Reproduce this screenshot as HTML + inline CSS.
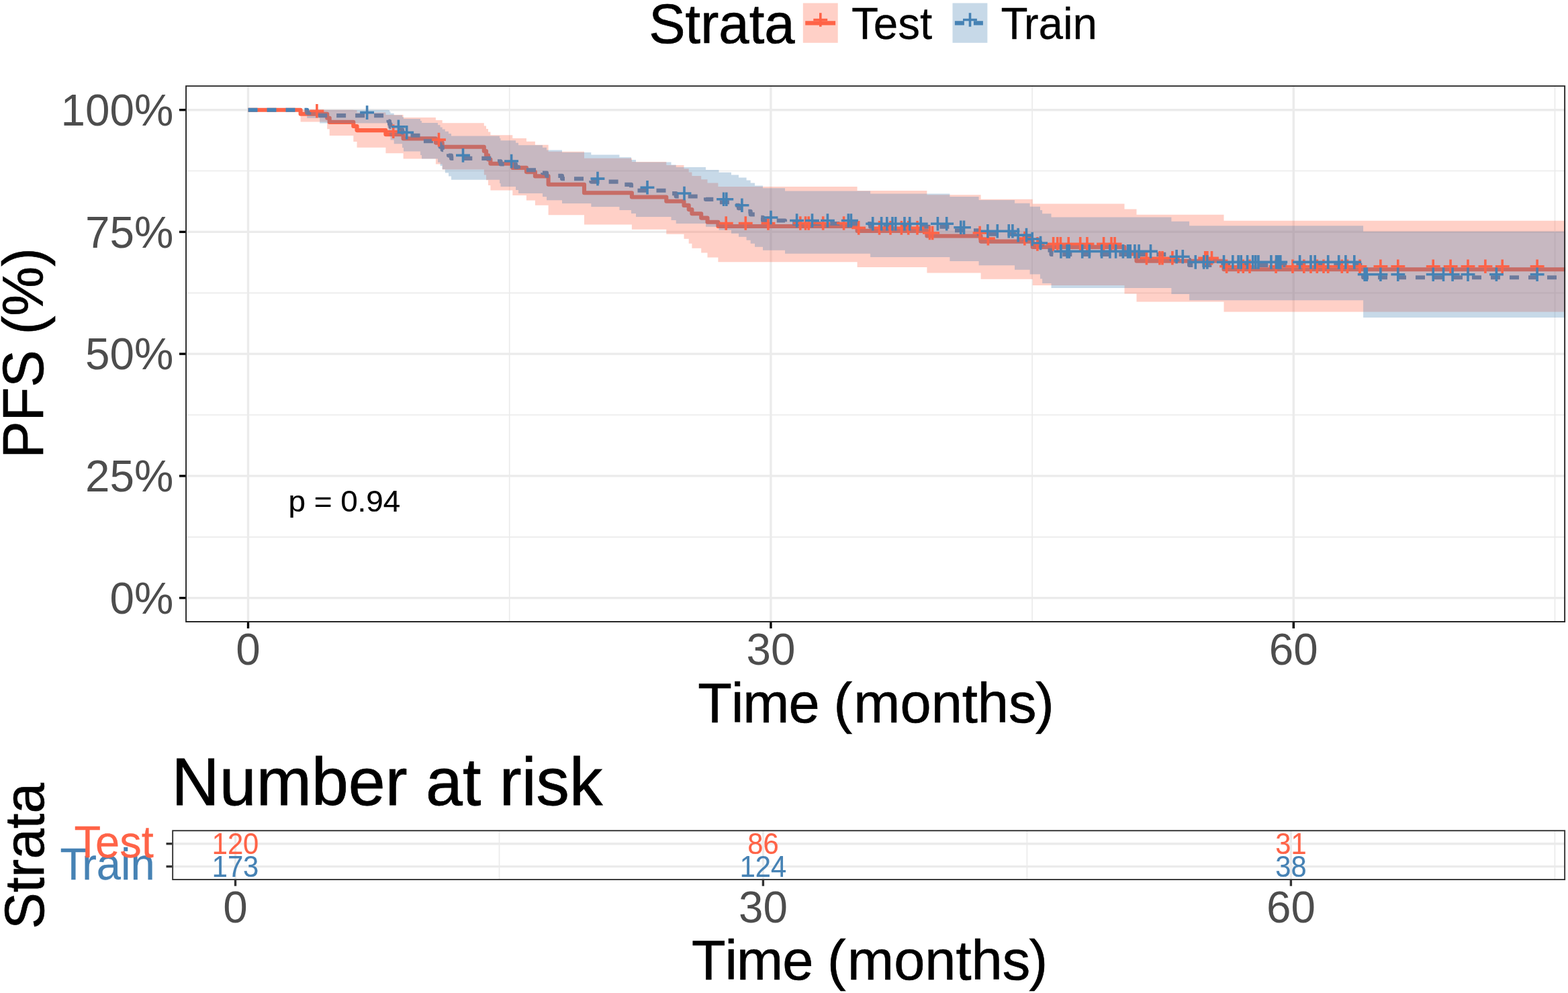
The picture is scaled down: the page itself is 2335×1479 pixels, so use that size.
<!DOCTYPE html>
<html lang="en">
<head>
<meta charset="utf-8">
<title>PFS Kaplan-Meier: Test vs Train</title>
<style>
html,body{margin:0;padding:0;background:#fff;}
body{width:2335px;height:1479px;overflow:hidden;font-family:"Liberation Sans",Arial,sans-serif;}
svg{display:block;}
</style>
</head>
<body>
<svg width="2335" height="1479" viewBox="0 0 2335 1479" font-family="'Liberation Sans', Arial, sans-serif">
<rect width="2335" height="1479" fill="#fff"/>
<defs><clipPath id="cp"><rect x="276.1" y="127.2" width="2055" height="799.7"/></clipPath>
<clipPath id="cr"><rect x="256.2" y="1236.3" width="2074.9" height="74.7"/></clipPath></defs>
<g clip-path="url(#cp)">
<g stroke="#EBEBEB" stroke-width="1.7"><path d="M276.1,799.8H2331.1"/><path d="M276.1,618H2331.1"/><path d="M276.1,436.3H2331.1"/><path d="M276.1,254.5H2331.1"/><path d="M758.7,127.2V926.9"/><path d="M1537.1,127.2V926.9"/><path d="M2315.5,127.2V926.9"/></g>
<g stroke="#EBEBEB" stroke-width="3.4"><path d="M276.1,890.6H2331.1"/><path d="M276.1,708.9H2331.1"/><path d="M276.1,527.1H2331.1"/><path d="M276.1,345.4H2331.1"/><path d="M276.1,163.7H2331.1"/><path d="M369.5,127.2V926.9"/><path d="M1147.9,127.2V926.9"/><path d="M1926.3,127.2V926.9"/></g>
<g fill="none" stroke-width="6.1" stroke-linejoin="round">
<path stroke="#FF6347" d="M369.5,163.7H447.6V169.7H487.2V175.8H490.7V181.9H526.3V188H531.5V194.1H574.4V200.3H600.6V206.4H648.9V212.6H658.7V218.8H720.8V225H724V231.2H727V237.5H730.4V243.7H763.3V249.9H783.9V256.1H796.9V262.4H816.6V274.8H870V287.2H940.9V293.5H992.3V299.7H1018.5V305.9H1025.7V312.1H1030.4V318.3H1044.2V324.6H1053.5V330.8H1069.4V337H1276.6V343.9H1380.4V351.5H1460.6V359.6H1537.7V367.9H1674.5V378.3H1692.5V388.8H1822.5V401.3H2345"/>
<path stroke="#4682B4" stroke-dasharray="14 14" d="M369.5,163.7H457.2V167.9H476.1V172.1H577V176.3H578.5V180.5H580V184.7H581.5V189H586.7V193.2H599V197.4H601V201.7H626V206H628V210.3H652V214.5H655.6V218.8H658.7V223.1H662.8V227.4H668V231.6H672V235.9H744V240.2H745.5V244.5H768V248.9H772V253.2H808V257.6H814V261.9H837V266.2H880.3V270.6H922.4V274.9H940V279.3H947V283.7H999.5V288.1H1006.7V292.5H1051V296.9H1070.5V301.3H1089V305.8H1100V310.3H1111.6V314.9H1117.7V319.4H1124V323.9H1136V328.5H1169V333H1296.1V337.8H1414.4V343.2H1457.6V348.7H1511V354.6H1533.6V360.5H1549V366.5H1552.1V372.7H1565.5V378.9H1744.4V386.7H1771.1V394.9H2030.1V413.2H2345"/>
</g>
<path fill="#FF6347" fill-opacity="0.3" d="M369.5,163.7H447.6V163.7H487.2V163.7H490.7V163.7H526.3V164.1H531.5V167.5H574.4V171.1H600.6V175H648.9V179H658.7V183.3H720.8V187.6H724V192.1H727V196.6H730.4V201.3H763.3V206H783.9V210.8H796.9V215.7H816.6V225.7H870V235.8H940.9V240.9H992.3V246.1H1018.5V251.3H1025.7V256.6H1030.4V261.9H1044.2V267.2H1053.5V272.6H1069.4V278H1276.6V283.9H1380.4V290.2H1460.6V296.8H1537.7V303.6H1674.5V311.6H1692.5V319.7H1822.5V328.8H2345V464.5H1822.5V449.5H1692.5V437.4H1674.5V425.1H1537.7V415.7H1460.6V406.6H1380.4V398H1276.6V390.3H1069.4V383.5H1053.5V376.6H1044.2V369.7H1030.4V362.8H1025.7V355.8H1018.5V348.8H992.3V341.7H940.9V334.6H870V320.3H816.6V305.8H796.9V298.4H783.9V291H763.3V283.5H730.4V275.9H727V268.2H724V260.5H720.8V252.6H658.7V244.6H648.9V236.5H600.6V228.2H574.4V219.8H531.5V211.1H526.3V202.1H490.7V192.3H487.2V181.4H447.6V163.7Z"/>
<path fill="#4682B4" fill-opacity="0.3" d="M369.5,163.7H457.2V163.7H476.1V163.7H577V163.7H578.5V164H580V166.3H581.5V168.8H586.7V171.4H599V174.2H601V177.1H626V180H628V183.1H652V186.2H655.6V189.4H658.7V192.6H662.8V195.8H668V199.1H672V202.5H744V205.9H745.5V209.3H768V212.8H772V216.3H808V219.8H814V223.4H837V227H880.3V230.6H922.4V234.3H940V237.9H947V241.6H999.5V245.4H1006.7V249.1H1051V252.9H1070.5V256.7H1089V260.6H1100V264.5H1111.6V268.4H1117.7V272.4H1124V276.4H1136V280.3H1169V284.4H1296.1V288.6H1414.4V293.1H1457.6V297.9H1511V302.8H1533.6V307.8H1549V312.9H1552.1V318.2H1565.5V323.5H1744.4V329.7H1771.1V336.2H2030.1V344.7H2345V473.1H2030.1V447.3H1771.1V438H1744.4V428.9H1565.5V422H1552.1V415.2H1549V408.4H1533.6V401.8H1511V395.2H1457.6V389.1H1414.4V383.1H1296.1V377.8H1169V372.8H1136V367.8H1124V362.8H1117.7V357.8H1111.6V352.8H1100V347.8H1089V342.8H1070.5V337.8H1051V332.9H1006.7V327.9H999.5V323H947V318H940V313.1H922.4V308.1H880.3V303.1H837V298.2H814V293.1H808V288.1H772V283H768V277.9H745.5V272.9H744V267.7H672V262.6H668V257.5H662.8V252.3H658.7V247H655.6V241.7H652V236.4H628V231H626V225.5H601V219.9H599V214.3H586.7V208.6H581.5V202.7H580V196.7H578.5V190.3H577V183.5H476.1V176H457.2V163.7Z"/>
<g fill="none" stroke-width="3.6">
<path stroke="#FF6347" d="M461.4,165.2h20.9M471.9,154.9v20.6M575.2,195.8h20.9M585.7,185.5v20.6M643,208.1h20.9M653.5,197.8v20.6M1070.8,332.5h20.9M1081.2,322.2v20.6M1099.8,332.5h20.9M1110.3,322.2v20.6M1133.5,332.5h20.9M1143.9,322.2v20.6M1181.3,332.5h20.9M1191.8,322.2v20.6M1189,332.5h20.9M1199.5,322.2v20.6M1193.8,332.5h20.9M1204.2,322.2v20.6M1215.2,332.5h20.9M1225.7,322.2v20.6M1246.1,332.5h20.9M1256.6,322.2v20.6M1268.2,339.4h20.9M1278.7,329.1v20.6M1299,339.4h20.9M1309.5,329.1v20.6M1315.5,339.4h20.9M1326,329.1v20.6M1332,339.4h20.9M1342.4,329.1v20.6M1342.2,339.4h20.9M1352.7,329.1v20.6M1355.5,339.4h20.9M1366,329.1v20.6M1374,347h20.9M1384.5,336.7v20.6M1378.2,347h20.9M1388.7,336.7v20.6M1448.6,347h20.9M1459.1,336.7v20.6M1461,355.1h20.9M1471.4,344.8v20.6M1515.5,355.1h20.9M1525.9,344.8v20.6M1534.5,363.4h20.9M1544.9,353.1v20.6M1558.1,363.4h20.9M1568.6,353.1v20.6M1564.2,363.4h20.9M1574.7,353.1v20.6M1569,363.4h20.9M1579.4,353.1v20.6M1580.8,363.4h20.9M1591.2,353.1v20.6M1598.2,363.4h20.9M1608.7,353.1v20.6M1608.5,363.4h20.9M1618.9,353.1v20.6M1633.1,363.4h20.9M1643.6,353.1v20.6M1644.5,363.4h20.9M1655,353.1v20.6M1649.6,363.4h20.9M1660.1,353.1v20.6M1697,384.3h20.9M1707.4,374v20.6M1716.5,384.3h20.9M1726.9,374v20.6M1720.5,384.3h20.9M1731,374v20.6M1735.5,384.3h20.9M1745.9,374v20.6M1784.2,384.3h20.9M1794.7,374v20.6M1787.3,384.3h20.9M1797.8,374v20.6M1794,384.3h20.9M1804.5,374v20.6M1816.1,396.8h20.9M1826.6,386.5v20.6M1833.6,396.8h20.9M1844.1,386.5v20.6M1840.8,396.8h20.9M1851.3,386.5v20.6M1850.5,396.8h20.9M1861,386.5v20.6M1889.6,396.8h20.9M1900.1,386.5v20.6M1914.5,396.8h20.9M1925,386.5v20.6M1931.3,396.8h20.9M1941.8,386.5v20.6M1941.5,396.8h20.9M1952,386.5v20.6M1950.8,396.8h20.9M1961.3,386.5v20.6M1960.5,396.8h20.9M1971,386.5v20.6M1967.2,396.8h20.9M1977.7,386.5v20.6M1987.8,396.8h20.9M1998.3,386.5v20.6M1996,396.8h20.9M2006.5,386.5v20.6M2014.5,396.8h20.9M2025,386.5v20.6M2045.5,396.8h20.9M2055.9,386.5v20.6M2071.4,396.8h20.9M2081.8,386.5v20.6M2123.8,396.8h20.9M2134.2,386.5v20.6M2149.7,396.8h20.9M2160.1,386.5v20.6M2175.6,396.8h20.9M2186,386.5v20.6M2201.5,396.8h20.9M2211.9,386.5v20.6M2226.8,396.8h20.9M2237.2,386.5v20.6M2278.7,396.8h20.9M2289.1,386.5v20.6"/>
<path stroke="#4682B4" d="M536.1,167.6h20.9M546.6,157.3v20.6M582.9,188.7h20.9M593.4,178.4v20.6M595.2,197.2h20.9M605.7,186.9v20.6M679,231.4h20.9M689.5,221.1v20.6M751.1,240h20.9M761.6,229.7v20.6M879.5,266.1h20.9M890,255.8v20.6M953.5,279.2h20.9M964,268.9v20.6M1008.5,288h20.9M1019,277.7v20.6M1067.1,296.8h20.9M1077.6,286.5v20.6M1071.3,296.8h20.9M1081.8,286.5v20.6M1094.5,305.8h20.9M1104.9,295.5v20.6M1137.5,324h20.9M1148,313.7v20.6M1176.1,328.5h20.9M1186.6,318.2v20.6M1199,328.5h20.9M1209.5,318.2v20.6M1222,328.5h20.9M1232.4,318.2v20.6M1252.8,328.5h20.9M1263.3,318.2v20.6M1257,328.5h20.9M1267.4,318.2v20.6M1289.2,333.3h20.9M1299.7,323v20.6M1302.1,333.3h20.9M1312.6,323v20.6M1310.3,333.3h20.9M1320.8,323v20.6M1318.5,333.3h20.9M1329,323v20.6M1323.2,333.3h20.9M1333.7,323v20.6M1336.5,333.3h20.9M1347,323v20.6M1344.2,333.3h20.9M1354.7,323v20.6M1360.8,333.3h20.9M1371.2,323v20.6M1386,333.3h20.9M1396.4,323v20.6M1399.2,333.3h20.9M1409.7,323v20.6M1420.3,338.7h20.9M1430.8,328.4v20.6M1425,338.7h20.9M1435.5,328.4v20.6M1460.5,344.2h20.9M1470.9,333.9v20.6M1474.8,344.2h20.9M1485.3,333.9v20.6M1491.8,344.2h20.9M1502.3,333.9v20.6M1497.5,344.2h20.9M1507.9,333.9v20.6M1505.6,350.1h20.9M1516.1,339.8v20.6M1518,350.1h20.9M1528.5,339.8v20.6M1526.8,356h20.9M1537.2,345.7v20.6M1539.1,362h20.9M1549.6,351.7v20.6M1569.5,374.4h20.9M1579.9,364.1v20.6M1578.6,374.4h20.9M1589.1,364.1v20.6M1581.8,374.4h20.9M1592.2,364.1v20.6M1601.2,374.4h20.9M1611.7,364.1v20.6M1611.8,374.4h20.9M1622.3,364.1v20.6M1630.1,374.4h20.9M1640.6,364.1v20.6M1642.5,374.4h20.9M1652.9,364.1v20.6M1651.1,374.4h20.9M1661.6,364.1v20.6M1662,374.4h20.9M1672.4,364.1v20.6M1669.1,374.4h20.9M1679.6,364.1v20.6M1672.8,374.4h20.9M1683.2,364.1v20.6M1679.5,374.4h20.9M1689.9,364.1v20.6M1685.6,374.4h20.9M1696.1,364.1v20.6M1703,374.4h20.9M1713.5,364.1v20.6M1741.6,382.2h20.9M1752.1,371.9v20.6M1750.8,382.2h20.9M1761.3,371.9v20.6M1769.8,390.4h20.9M1780.3,380.1v20.6M1782.2,390.4h20.9M1792.7,380.1v20.6M1787.3,390.4h20.9M1797.8,380.1v20.6M1812,390.4h20.9M1822.5,380.1v20.6M1825.3,390.4h20.9M1835.8,380.1v20.6M1833.6,390.4h20.9M1844.1,380.1v20.6M1837.8,390.4h20.9M1848.2,380.1v20.6M1847,390.4h20.9M1857.5,380.1v20.6M1855.2,390.4h20.9M1865.7,380.1v20.6M1859.3,390.4h20.9M1869.8,380.1v20.6M1863.5,390.4h20.9M1873.9,380.1v20.6M1882.5,390.4h20.9M1892.9,380.1v20.6M1890.1,390.4h20.9M1900.6,380.1v20.6M1893.2,390.4h20.9M1903.7,380.1v20.6M1896.3,390.4h20.9M1906.8,380.1v20.6M1925.1,390.4h20.9M1935.6,380.1v20.6M1941.5,390.4h20.9M1952,380.1v20.6M1947.8,390.4h20.9M1958.2,380.1v20.6M1967.2,390.4h20.9M1977.7,380.1v20.6M1983.2,390.4h20.9M1993.7,380.1v20.6M1993.5,390.4h20.9M2003.9,380.1v20.6M2006.3,390.4h20.9M2016.8,380.1v20.6M2021.8,408.7h20.9M2032.2,398.4v20.6M2024.8,408.7h20.9M2035.3,398.4v20.6M2045.5,408.7h20.9M2055.9,398.4v20.6M2071.4,408.7h20.9M2081.8,398.4v20.6M2123.8,408.7h20.9M2134.2,398.4v20.6M2139.1,408.7h20.9M2149.5,398.4v20.6M2152.7,408.7h20.9M2163.1,398.4v20.6M2175.6,408.7h20.9M2186,398.4v20.6M2218,408.7h20.9M2228.4,398.4v20.6M2278.7,408.7h20.9M2289.1,398.4v20.6"/>
</g>
<text transform="translate(429.5,762) scale(1,0.985)" font-size="45.8" text-anchor="start" fill="#000" stroke="#000" stroke-width="0.18">p = 0.94</text>
<rect x="276.1" y="127.2" width="2055" height="799.7" fill="none" stroke="#262626" stroke-width="3.8"/>
</g>
<g stroke="#000" stroke-width="3.4"><path d="M267,890.6H276.1"/><path d="M267,708.9H276.1"/><path d="M267,527.1H276.1"/><path d="M267,345.4H276.1"/><path d="M267,163.7H276.1"/><path d="M369.5,926.9V936"/><path d="M1147.9,926.9V936"/><path d="M1926.3,926.9V936"/></g>
<g><text transform="translate(258.3,913.9) scale(1,1.025)" font-size="65.6" text-anchor="end" fill="#4D4D4D">0%</text><text transform="translate(258.3,732.2) scale(1,1.025)" font-size="65.6" text-anchor="end" fill="#4D4D4D">25%</text><text transform="translate(258.3,550.4) scale(1,1.025)" font-size="65.6" text-anchor="end" fill="#4D4D4D">50%</text><text transform="translate(258.3,368.7) scale(1,1.025)" font-size="65.6" text-anchor="end" fill="#4D4D4D">75%</text><text transform="translate(258.3,187) scale(1,1.025)" font-size="65.6" text-anchor="end" fill="#4D4D4D">100%</text><text transform="translate(369.5,989.7) scale(1,1.025)" font-size="65.6" text-anchor="middle" fill="#4D4D4D">0</text><text transform="translate(1147.9,989.7) scale(1,1.025)" font-size="65.6" text-anchor="middle" fill="#4D4D4D">30</text><text transform="translate(1926.3,989.7) scale(1,1.025)" font-size="65.6" text-anchor="middle" fill="#4D4D4D">60</text></g>
<text transform="translate(1039.3,1075.5) scale(1,1.015)" font-size="83" text-anchor="start" fill="#000" stroke="#000" stroke-width="0.66" dx="0 2 -1 -1 0 -2.3 2.3 0 0 0 0 0 -1.6">Time (months)</text>
<text transform="translate(64.2,526) rotate(-90) scale(1,1.02)" font-size="83" text-anchor="middle" fill="#000" stroke="#000" stroke-width="0.66">PFS (%)</text>
<text transform="translate(966.2,63.8) scale(1,1.015)" font-size="81.5" text-anchor="start" fill="#000" stroke="#000" stroke-width="0.65">Strata</text>
<rect x="1195.8" y="4.6" width="51.9" height="59.2" fill="#FF6347" fill-opacity="0.3"/>
<path d="M1199.2,34.3H1244.1" stroke="#FF6347" stroke-width="6.2" fill="none"/>
<path d="M1211.3,29.5h20.9M1221.8,19.2v20.6" stroke="#FF6347" stroke-width="3.6" fill="none"/>
<text transform="translate(1268,58.3) scale(1,1.02)" font-size="65.6" text-anchor="start" fill="#000" stroke="#000" stroke-width="0.26">Test</text>
<rect x="1418.5" y="4.6" width="51.9" height="59.2" fill="#4682B4" fill-opacity="0.3"/>
<path d="M1421.9,34.3H1466.8" stroke="#4682B4" stroke-width="6.2" stroke-dasharray="14 14" fill="none"/>
<path d="M1434,29.5h20.9M1444.5,19.2v20.6" stroke="#4682B4" stroke-width="3.6" fill="none"/>
<text transform="translate(1490.6,58.3) scale(1,1.02)" font-size="65.6" text-anchor="start" fill="#000" stroke="#000" stroke-width="0.26" dx="0 -3.5">Train</text>
<text transform="translate(255.6,1198.8) scale(1,1.015)" font-size="98.7" text-anchor="start" fill="#000" stroke="#000" stroke-width="0.79">Number at risk</text>
<g clip-path="url(#cr)">
<g stroke="#EBEBEB" stroke-width="1.7"><path d="M743.5,1236.3V1311"/><path d="M1529.4,1236.3V1311"/><path d="M2315.4,1236.3V1311"/></g>
<g stroke="#EBEBEB" stroke-width="3.4"><path d="M256.2,1256.7H2331.1"/><path d="M256.2,1290.6H2331.1"/><path d="M350.5,1236.3V1311"/><path d="M1136.4,1236.3V1311"/><path d="M1922.4,1236.3V1311"/></g>
</g>
<g><text transform="translate(350.5,1271.6) scale(1,1.06)" font-size="41.7" text-anchor="middle" fill="#FF6347" stroke="#FF6347" stroke-width="0.17">120</text><text transform="translate(350.5,1305.5) scale(1,1.06)" font-size="41.7" text-anchor="middle" fill="#4682B4" stroke="#4682B4" stroke-width="0.17">173</text><text transform="translate(1136.4,1271.6) scale(1,1.06)" font-size="41.7" text-anchor="middle" fill="#FF6347" stroke="#FF6347" stroke-width="0.17">86</text><text transform="translate(1136.4,1305.5) scale(1,1.06)" font-size="41.7" text-anchor="middle" fill="#4682B4" stroke="#4682B4" stroke-width="0.17">124</text><text transform="translate(1922.4,1271.6) scale(1,1.06)" font-size="41.7" text-anchor="middle" fill="#FF6347" stroke="#FF6347" stroke-width="0.17">31</text><text transform="translate(1922.4,1305.5) scale(1,1.06)" font-size="41.7" text-anchor="middle" fill="#4682B4" stroke="#4682B4" stroke-width="0.17">38</text></g>
<rect x="256.2" y="1236.3" width="2074.9" height="74.7" fill="none" stroke="#333" stroke-width="3.8" clip-path="url(#cr)"/>
<g stroke="#333" stroke-width="3.4"><path d="M247.5,1256.7H256.2"/><path d="M247.5,1290.6H256.2"/><path d="M350.5,1311V1319.7"/><path d="M1136.4,1311V1319.7"/><path d="M1922.4,1311V1319.7"/></g>
<text transform="translate(230.6,1310) scale(1,1.03)" font-size="65" text-anchor="end" fill="#4682B4" stroke="#4682B4" stroke-width="0.26" dx="0 -4.5">Train</text>
<text transform="translate(228.7,1276.5) scale(1,1.03)" font-size="65" text-anchor="end" fill="#FF6347" stroke="#FF6347" stroke-width="0.26" dx="0 -1">Test</text>
<g><text transform="translate(350.5,1374.2) scale(1,1.025)" font-size="65.6" text-anchor="middle" fill="#4D4D4D">0</text><text transform="translate(1136.4,1374.2) scale(1,1.025)" font-size="65.6" text-anchor="middle" fill="#4D4D4D">30</text><text transform="translate(1922.4,1374.2) scale(1,1.025)" font-size="65.6" text-anchor="middle" fill="#4D4D4D">60</text></g>
<text transform="translate(1030,1458.5) scale(1,1.015)" font-size="83" text-anchor="start" fill="#000" stroke="#000" stroke-width="0.66" dx="0 2 -1 -1 0 -2.3 2.3 0 0 0 0 0 -1.6">Time (months)</text>
<text transform="translate(65,1275) rotate(-90) scale(1,1.015)" font-size="81.5" text-anchor="middle" fill="#000" stroke="#000" stroke-width="0.65">Strata</text>
</svg>
</body>
</html>
